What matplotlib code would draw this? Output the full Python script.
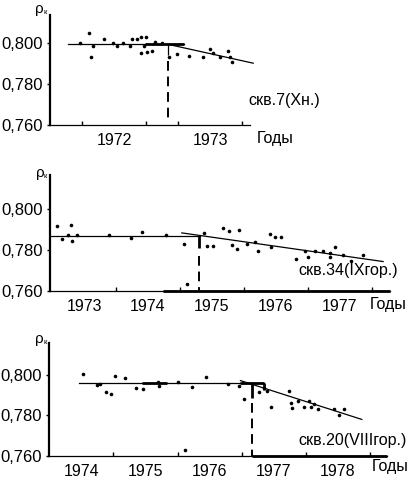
import matplotlib.pyplot as plt

plt.rcParams['font.family'] = ['Liberation Sans', 'DejaVu Sans']

W, H = 412, 480

# скв.7 (Хн.)
years1 = [1972.15, 1972.24, 1972.26, 1972.28, 1972.40, 1972.49, 1972.53, 1972.59, 1972.67, 1972.69,
          1972.74, 1972.78, 1972.78, 1972.81, 1972.83, 1972.84, 1972.90, 1972.93, 1973.00, 1973.07,
          1973.16, 1973.28, 1973.43, 1973.50, 1973.53, 1973.60, 1973.69, 1973.71, 1973.73]
dens1 = [0.8000, 0.8049, 0.7931, 0.7987, 0.8020, 0.8000, 0.7987, 0.8003, 0.7987, 0.8023,
         0.8023, 0.8033, 0.7954, 0.7987, 0.8033, 0.7957, 0.7961, 0.8008, 0.8000, 0.7934,
         0.7947, 0.7938, 0.7931, 0.7972, 0.7951, 0.7931, 0.7964, 0.7931, 0.7909]
flat1_x, flat1_y = [1972.02, 1973.23], [0.7995, 0.7995]
bold1_x = [[1972.82, 1973.23]]
trend1_x, trend1_y = [1973.06, 1973.95], [0.7995, 0.7902]
break1 = 1973.06

# скв.34 (IXгор.)
years2 = [1973.07, 1973.15, 1973.25, 1973.29, 1973.31, 1973.39, 1973.89, 1974.23, 1974.40, 1974.79,
          1975.06, 1975.11, 1975.37, 1975.42, 1975.52, 1975.67, 1975.77, 1975.82, 1975.90, 1975.92,
          1976.05, 1976.17, 1976.23, 1976.41, 1976.42, 1976.49, 1976.58, 1976.81, 1976.96, 1977.00,
          1977.11, 1977.24, 1977.35, 1977.35, 1977.43, 1977.56, 1977.67, 1977.87]
dens2 = [0.7918, 0.7856, 0.7872, 0.7921, 0.7844, 0.7872, 0.7872, 0.7857, 0.7887, 0.7872,
         0.7829, 0.7630, 0.7882, 0.7820, 0.7820, 0.7908, 0.7895, 0.7823, 0.7803, 0.7898,
         0.7829, 0.7839, 0.7797, 0.7879, 0.7813, 0.7865, 0.7865, 0.7754, 0.7797, 0.7767,
         0.7797, 0.7797, 0.7784, 0.7764, 0.7813, 0.7774, 0.7744, 0.7774]
flat2_x, flat2_y = [1972.99, 1975.31], [0.7867, 0.7867]
bold2_x = []
trend2_x, trend2_y = [1975.03, 1978.18], [0.7884, 0.7743]
break2 = 1975.30

# скв.20 (VIIIгор.)
years3 = [1974.52, 1974.74, 1974.80, 1974.89, 1974.97, 1975.02, 1975.18, 1975.36, 1975.46, 1975.69,
          1975.71, 1976.00, 1976.11, 1976.23, 1976.45, 1976.79, 1976.96, 1977.04, 1977.27, 1977.35,
          1977.39, 1977.45, 1977.73, 1977.76, 1977.79, 1977.87, 1977.97, 1978.05, 1978.08, 1978.13,
          1978.19, 1978.43, 1978.52, 1978.60]
dens3 = [0.8005, 0.7948, 0.7956, 0.7914, 0.7904, 0.7992, 0.7984, 0.7933, 0.7930, 0.7966,
         0.7943, 0.7966, 0.7631, 0.7940, 0.7989, 0.7953, 0.7943, 0.7881, 0.7917, 0.7933,
         0.7920, 0.7839, 0.7922, 0.7862, 0.7834, 0.7872, 0.7842, 0.7870, 0.7841, 0.7854,
         0.7829, 0.7829, 0.7803, 0.7829]
flat3_x, flat3_y = [1974.47, 1977.35], [0.7958, 0.7958]
bold3_x = [[1975.44, 1975.83], [1976.98, 1977.35]]
trend3_x, trend3_y = [1976.98, 1978.87], [0.7971, 0.7780]
break3 = 1977.16

ytick_vals = [0.760, 0.780, 0.800]
ytick_labels = ['0,760', '0,780', '0,800']

fig = plt.figure(figsize=(W / 100, H / 100), dpi=100)


def fx(px):
    return px / W


def fy(py):
    return 1 - py / H


def panel(top, bottom, left, xlim, ylim, spine_end, thick_from, minor, labels, label_pos):
    ax = fig.add_axes([fx(left), fy(bottom), fx(410 - left), (bottom - top) / H])
    ax.set_xlim(xlim)
    ax.set_ylim(ylim)
    for s in ['top', 'right']:
        ax.spines[s].set_visible(False)
    ax.spines['left'].set_linewidth(1.6)
    ax.spines['bottom'].set_linewidth(0.9)
    ax.spines['bottom'].set_bounds(xlim[0], spine_end)
    if thick_from is not None:
        ax.plot([thick_from, spine_end], [ylim[0], ylim[0]], color='black', lw=2.0,
                clip_on=False, solid_capstyle='butt')
    ax.set_yticks(ytick_vals)
    ax.set_yticklabels(ytick_labels, fontsize=12)
    ax.tick_params(axis='y', direction='out', length=2, width=1, pad=3)
    ax.set_xticks(label_pos)
    ax.set_xticklabels(labels, fontsize=11.5)
    ax.set_xticks(minor, minor=True)
    ax.tick_params(axis='x', which='major', length=0, pad=6)
    ax.tick_params(axis='x', which='minor', direction='in', length=3, width=1)
    return ax


def draw(ax, years, dens, flat_x, flat_y, bold_x, trend_x, trend_y, brk, solid_to, dash_from, dash_to, brk_lw):
    ax.plot(years, dens, 'o', color='black', ms=2.6, mec='none', clip_on=False)
    ax.plot(flat_x, flat_y, color='black', lw=0.9)
    for seg in bold_x:
        ax.plot(seg, [flat_y[0], flat_y[0]], color='black', lw=2.0, solid_capstyle='butt')
    ax.plot(trend_x, trend_y, color='black', lw=0.9, clip_on=False)
    ax.plot([brk, brk], [flat_y[0], solid_to], color='black', lw=brk_lw, solid_capstyle='butt')
    ax.plot([brk, brk], [dash_from, dash_to], color='black', lw=1.4, dashes=(5, 3))


# panel 1
ax1 = panel(15, 125, 50, (1971.833, 1975.583), (0.7598, 0.8139), 1973.917, None,
            [1972.17, 1972.5, 1972.83, 1973.17, 1973.5, 1973.83], ['1972', '1973'], [1972.5, 1973.5])
draw(ax1, years1, dens1, flat1_x, flat1_y, bold1_x, trend1_x, trend1_y, break1, 0.7942, 0.7915, 0.7628, 0.9)

# panel 2
ax2 = panel(175, 291, 50, (1972.967, 1978.601), (0.7598, 0.8169), 1978.288, 1974.736,
            [1973.5, 1974, 1975, 1976, 1977, 1978], ['1973', '1974', '1975', '1976', '1977'],
            [1973.5, 1974.5, 1975.5, 1976.5, 1977.5])
draw(ax2, years2, dens2, flat2_x, flat2_y, bold2_x, trend2_x, trend2_y, break2, 0.7808, 0.7770, 0.7599, 2.0)

# panel 3
ax3 = panel(343, 456, 49, (1973.998, 1979.621), (0.7600, 0.8156), 1979.26, 1977.16,
            [1974.5, 1975, 1976, 1977, 1978, 1979], ['1974', '1975', '1976', '1977', '1978'],
            [1974.5, 1975.5, 1976.5, 1977.5, 1978.5])
draw(ax3, years3, dens3, flat3_x, flat3_y, bold3_x, trend3_x, trend3_y, break3, 0.7886, 0.7863, 0.7600, 2.0)
ax3.plot([1977.35, 1977.35], [0.7958, 0.7927], color='black', lw=2.0, solid_capstyle='butt')

# well names
fig.text(fx(248), fy(100), 'скв.7(Хн.)', fontsize=11.5, va='center', ha='left')
fig.text(fx(298), fy(270), 'скв.34(IXгор.)', fontsize=11.5, va='center', ha='left')
fig.text(fx(298), fy(440), 'скв.20(VIIIгор.)', fontsize=11.5, va='center', ha='left')

# "Годы" after the year ticks
for px, py in [(257, 139), (370, 305), (372, 466)]:
    fig.text(fx(px), fy(py), 'Годы', fontsize=11.5, va='center', ha='left')

# ρк axis titles
for px, py in [(35, 9), (36, 173), (35, 339)]:
    fig.text(fx(px), fy(py), 'ρ', fontsize=11, va='center', ha='left')
    fig.text(fx(px + 8), fy(py + 4), 'к', fontsize=5.5, va='center', ha='left')

fig.savefig('out.png', dpi=100)
